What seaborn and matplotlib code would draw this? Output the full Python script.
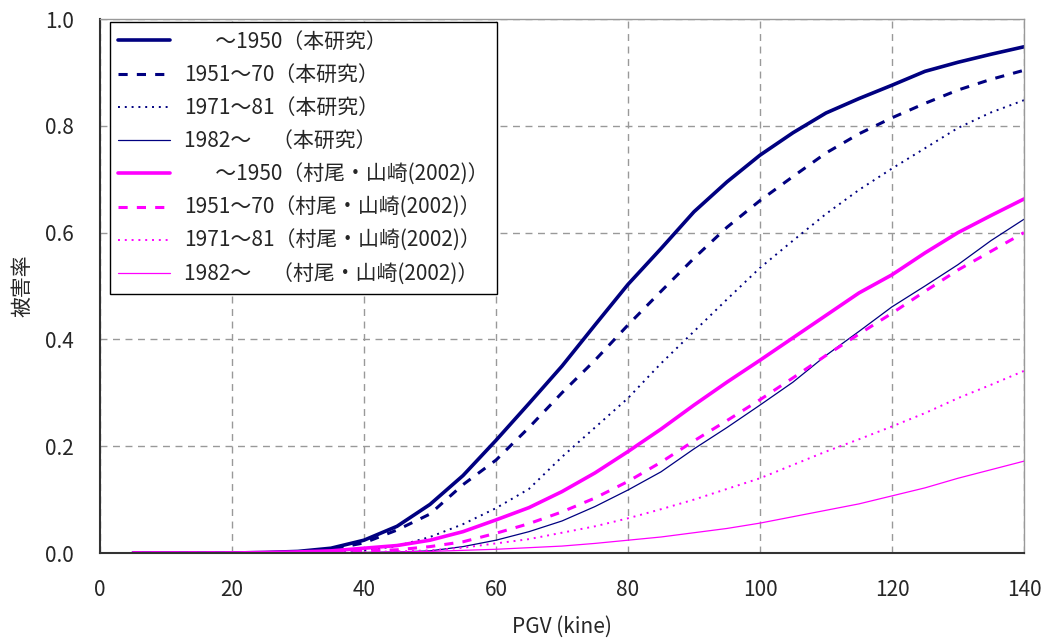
import numpy as np
import pandas as pd
import seaborn as sns
import matplotlib
matplotlib.use("Agg")
import matplotlib.pyplot as plt

# データ (PGV 5～140 kine)
pgv = [5, 10, 15, 20, 25, 30, 35, 40, 45, 50, 55, 60, 65, 70,
       75, 80, 85, 90, 95, 100, 105, 110, 115, 120, 125, 130, 135, 140]

honken_1950 = [0, 0, 0, 0, 0.001, 0.003, 0.009, 0.024, 0.05, 0.091, 0.145, 0.211, 0.28, 0.35,
               0.427, 0.503, 0.57, 0.639, 0.695, 0.745, 0.787, 0.824, 0.851, 0.876, 0.902, 0.919, 0.934, 0.948]
honken_1951 = [0, 0, 0, 0, 0, 0.002, 0.007, 0.019, 0.043, 0.073, 0.128, 0.174, 0.235, 0.30,
               0.361, 0.427, 0.49, 0.552, 0.61, 0.66, 0.705, 0.749, 0.785, 0.815, 0.842, 0.867, 0.887, 0.904]
honken_1971 = [0, 0, 0, 0, 0, 0.001, 0.002, 0.005, 0.013, 0.03, 0.054, 0.084, 0.12, 0.18,
               0.235, 0.29, 0.355, 0.415, 0.475, 0.534, 0.585, 0.635, 0.68, 0.72, 0.758, 0.796, 0.825, 0.848]
honken_1982 = [0, 0, 0, 0, 0, 0, 0, 0.001, 0.002, 0.004, 0.012, 0.024, 0.04, 0.06,
               0.087, 0.118, 0.152, 0.195, 0.235, 0.277, 0.32, 0.37, 0.415, 0.461, 0.5, 0.54, 0.585, 0.625]
murao_1950 = [0, 0, 0, 0, 0.001, 0.002, 0.004, 0.009, 0.014, 0.024, 0.04, 0.062, 0.085, 0.115,
              0.15, 0.19, 0.232, 0.277, 0.32, 0.361, 0.403, 0.445, 0.487, 0.521, 0.562, 0.6, 0.632, 0.663]
murao_1951 = [0, 0, 0, 0, 0, 0.001, 0.002, 0.004, 0.006, 0.012, 0.021, 0.037, 0.055, 0.077,
              0.103, 0.134, 0.17, 0.21, 0.248, 0.287, 0.328, 0.37, 0.41, 0.449, 0.49, 0.53, 0.565, 0.6]
murao_1971 = [0, 0, 0, 0, 0, 0, 0.001, 0.002, 0.003, 0.005, 0.01, 0.018, 0.026, 0.038,
              0.05, 0.065, 0.082, 0.1, 0.12, 0.14, 0.165, 0.19, 0.213, 0.237, 0.262, 0.29, 0.315, 0.341]
murao_1982 = [0, 0, 0, 0, 0, 0, 0, 0.001, 0.002, 0.003, 0.005, 0.007, 0.01, 0.013,
              0.018, 0.024, 0.03, 0.038, 0.046, 0.056, 0.068, 0.08, 0.092, 0.107, 0.122, 0.14, 0.156, 0.172]

labels = ["\u3000\u2002～1950（本研究）",
          "1951～70（本研究）",
          "1971～81（本研究）",
          "1982～\u3000（本研究）",
          "\u3000\u2002～1950（村尾・山崎(2002)）",
          "1951～70（村尾・山崎(2002)）",
          "1971～81（村尾・山崎(2002)）",
          "1982～\u3000（村尾・山崎(2002)）"]
series = [honken_1950, honken_1951, honken_1971, honken_1982,
          murao_1950, murao_1951, murao_1971, murao_1982]

navy = "#000080"
mag = "#FF00FF"
styles = [
    dict(color=navy, lw=2.6, ls="-"),
    dict(color=navy, lw=2.2, ls=(0, (3, 3))),
    dict(color=navy, lw=1.4, ls=(0, (1, 2.5))),
    dict(color=navy, lw=0.9, ls="-"),
    dict(color=mag, lw=2.6, ls="-"),
    dict(color=mag, lw=2.2, ls=(0, (3, 3))),
    dict(color=mag, lw=1.4, ls=(0, (1, 2.5))),
    dict(color=mag, lw=0.9, ls="-"),
]

sns.set_theme(style="white")
plt.rcParams['font.family'] = ['Noto Sans CJK JP', 'DejaVu Sans']

fig = plt.figure(figsize=(10.47, 6.38), dpi=100)
ax = fig.add_axes([0.0955, 0.1332, 0.8825, 0.8370])

for vals, lab, st in zip(series, labels, styles):
    sns.lineplot(x=pgv, y=vals, ax=ax, label=lab, color=st["color"],
                 linewidth=st["lw"], linestyle=st["ls"])

ax.set_xlim(0, 140)
ax.set_ylim(0, 1.0)
ax.set_xticks(np.arange(0, 141, 20))
ax.set_yticks(np.arange(0, 1.01, 0.2))
ax.set_yticklabels([f"{v:.1f}" for v in np.arange(0, 1.01, 0.2)])
ax.tick_params(axis="both", direction="in", length=5, labelsize=15,
               color="#333333")
ax.tick_params(axis="y", pad=19)
ax.tick_params(axis="x", pad=19)

ax.grid(True, color="#999999", linestyle=(0, (5, 4)), linewidth=1.0)
for s in ["top", "right"]:
    ax.spines[s].set_color("#999999")
    ax.spines[s].set_linewidth(1.0)
for s in ["left", "bottom"]:
    ax.spines[s].set_color("#333333")
    ax.spines[s].set_linewidth(1.5)

ax.set_xlabel("PGV (kine)", fontsize=15, labelpad=10)
ax.set_ylabel("被害率", fontsize=15, labelpad=8)

leg = ax.legend(loc="upper left", bbox_to_anchor=(0.011, 0.994), fontsize=15,
                frameon=True, fancybox=False, edgecolor="black",
                handlelength=2.45, handletextpad=0.7, labelspacing=0.54,
                borderpad=0.4, borderaxespad=0)
leg.get_frame().set_linewidth(1.0)
leg.get_frame().set_alpha(1.0)

fig.savefig("out.png", dpi=100)
